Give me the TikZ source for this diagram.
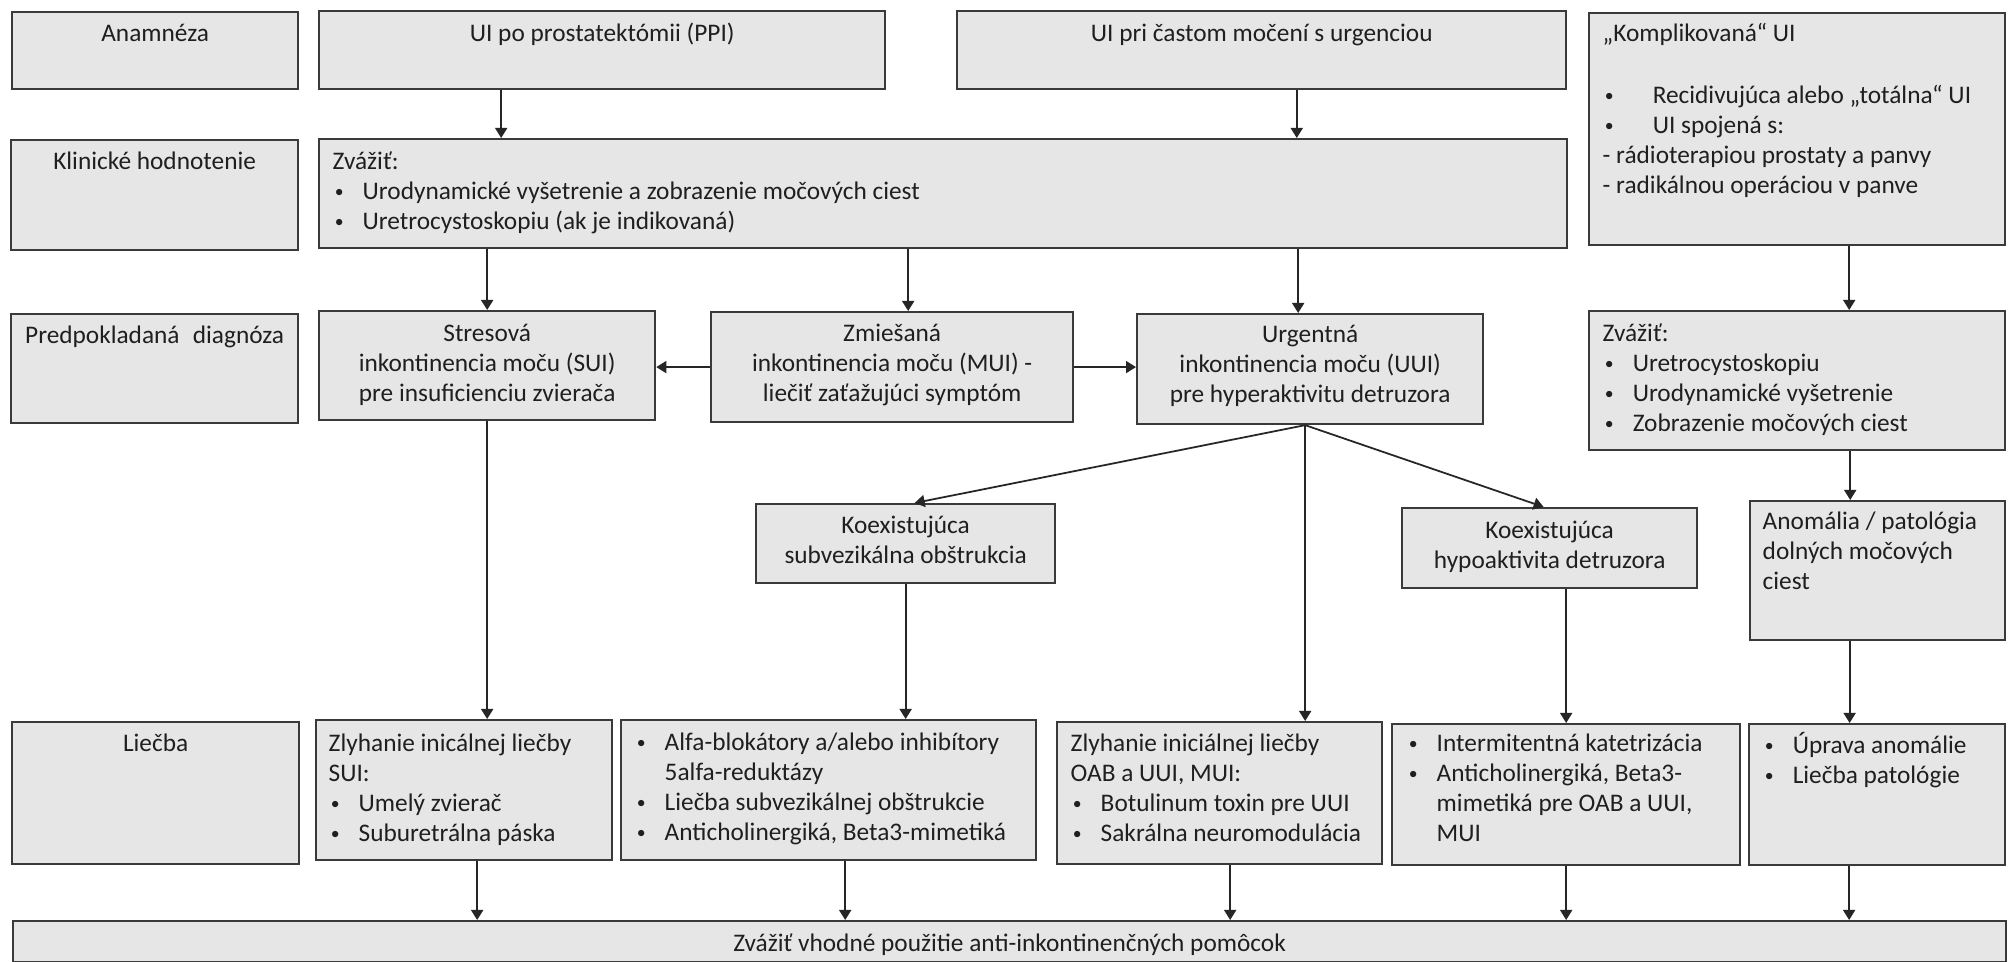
\documentclass[tikz,border=0pt]{standalone}
\usepackage{fontspec}
\usepackage{graphicx}
\setmainfont{Carlito}
\usetikzlibrary{arrows.meta,positioning,calc}

\definecolor{boxfill}{RGB}{231,230,230}
\definecolor{boxline}{RGB}{58,58,58}
\newcommand{\dotmark}{\hspace{0.6pt}\raisebox{0.75pt}{\scalebox{0.7}{\textbullet}}}
\newcommand{\itm}{\makebox[0.30cm][l]{\dotmark}}
\newcommand{\itmw}{\makebox[0.50cm][l]{\dotmark}}
\newcommand{\hang}{\hspace*{0.30cm}}

\begin{document}
\begin{tikzpicture}[
    x=0.01cm, y=-0.01cm,
    font=\fontsize{7.2}{8.54}\selectfont,
    >={Triangle[length=1.0mm, width=1.2mm]},
    box_node/.style={draw=boxline, fill=boxfill, line width=0.6pt, rectangle, inner sep=0pt, anchor=north west},
    mid_text/.style={anchor=north, inner sep=0pt, align=center, text=black!88},
    left_text/.style={anchor=north west, inner sep=0pt, align=left, text=black!88},
    flow_edge/.style={->, line width=0.5pt, draw=black!85}
]
\useasboundingbox (0,0) rectangle (2009,962);
\fill[white] (0,0) rectangle (2009,962);

% --- NODES ---

% ROW 1: Anamneza
\node[box_node, minimum width=2.86cm, minimum height=0.77cm] (anam) at (11,11) {};
\node[box_node, minimum width=5.66cm, minimum height=0.78cm] (ppi) at (318,10) {};
\node[box_node, minimum width=6.09cm, minimum height=0.78cm] (freq) at (956,10) {};
\node[box_node, minimum width=4.16cm, minimum height=2.32cm] (compl) at (1588,12) {};

% ROW 2: Klinicke hodnotenie
\node[box_node, minimum width=2.87cm, minimum height=1.10cm] (klin) at (10,139) {};
\node[box_node, minimum width=12.47cm, minimum height=1.09cm] (eval) at (318,138) {};

% ROW 3: Predpokladana diagnoza
\node[box_node, minimum width=2.87cm, minimum height=1.09cm] (pred) at (10,313) {};
\node[box_node, minimum width=3.36cm, minimum height=1.09cm] (sui) at (318,310) {};
\node[box_node, minimum width=3.62cm, minimum height=1.10cm] (mui) at (710,311) {};
\node[box_node, minimum width=3.46cm, minimum height=1.10cm] (uui) at (1136,313) {};
\node[box_node, minimum width=4.16cm, minimum height=1.39cm] (eval2) at (1588,310) {};

% ROW 4: coexisting findings
\node[box_node, minimum width=2.99cm, minimum height=0.79cm] (subv) at (755,503) {};
\node[box_node, minimum width=2.95cm, minimum height=0.80cm] (hypo) at (1401,507) {};
\node[box_node, minimum width=2.55cm, minimum height=1.39cm] (anom) at (1749,500) {};

% ROW 5: Liecba
\node[box_node, minimum width=2.87cm, minimum height=1.42cm] (treat) at (11,721) {};
\node[box_node, minimum width=2.96cm, minimum height=1.40cm] (tsui) at (315,719) {};
\node[box_node, minimum width=4.15cm, minimum height=1.40cm] (tbph) at (620,719) {};
\node[box_node, minimum width=3.25cm, minimum height=1.42cm] (toab) at (1056,721) {};
\node[box_node, minimum width=3.48cm, minimum height=1.41cm] (tcath) at (1391,723) {};
\node[box_node, minimum width=2.56cm, minimum height=1.41cm] (tfix) at (1748,723) {};

% ROW 6: pomocky
\node[box_node, minimum width=19.92cm, minimum height=0.41cm] (aids) at (12,920) {};

% --- TEXTS ---
\node[mid_text] (anam_t) at ([yshift=-0.09cm]anam.north) {\strut Anamnéza};
\node[mid_text] (ppi_t) at ([yshift=-0.10cm]ppi.north) {\strut UI po prostatektómii (PPI)};
\node[mid_text] (freq_t) at ([yshift=-0.10cm]freq.north) {\strut UI pri častom močení s urgenciou};
\node[left_text] (compl_t) at ([xshift=0.14cm, yshift=-0.08cm]compl.north west)
  {\strut „Komplikovaná“ UI\\[0.32cm]
   \itmw Recidivujúca alebo „totálna“ UI\\
   \itmw UI spojená s:\\
   - rádioterapiou prostaty a panvy\\
   - radikálnou operáciou v panve};

\node[mid_text] (klin_t) at ([yshift=-0.09cm]klin.north) {\strut Klinické hodnotenie};
\node[left_text] (eval_t) at ([xshift=0.14cm, yshift=-0.10cm]eval.north west)
  {\strut Zvážiť:\\
   \itm Urodynamické vyšetrenie a zobrazenie močových ciest\\
   \itm Uretrocystoskopiu (ak je indikovaná)};

\node[mid_text] (pred_t) at ([yshift=-0.09cm]pred.north) {\strut Predpokladaná\hspace{0.3em} diagnóza};
\node[mid_text] (sui_t) at ([yshift=-0.10cm]sui.north)
  {\strut Stresová\\inkontinencia moču (SUI)\\pre insuficienciu zvierača};
\node[mid_text] (mui_t) at ([yshift=-0.09cm]mui.north)
  {\strut Zmiešaná\\inkontinencia moču (MUI) -\\liečiť zaťažujúci symptóm};
\node[mid_text] (uui_t) at ([yshift=-0.08cm]uui.north)
  {\strut Urgentná\\inkontinencia moču (UUI)\\pre hyperaktivitu detruzora};
\node[left_text] (eval2_t) at ([xshift=0.14cm, yshift=-0.10cm]eval2.north west)
  {\strut Zvážiť:\\
   \itm Uretrocystoskopiu\\
   \itm Urodynamické vyšetrenie\\
   \itm Zobrazenie močových ciest};

\node[mid_text] (subv_t) at ([yshift=-0.09cm]subv.north) {\strut Koexistujúca\\subvezikálna obštrukcia};
\node[mid_text] (hypo_t) at ([yshift=-0.10cm]hypo.north) {\strut Koexistujúca\\hypoaktivita detruzora};
\node[left_text] (anom_t) at ([xshift=0.13cm, yshift=-0.08cm]anom.north west)
  {\strut Anomália / patológia\\dolných močových\\ciest};

\node[mid_text] (treat_t) at ([yshift=-0.09cm]treat.north) {\strut Liečba};
\node[left_text] (tsui_t) at ([xshift=0.13cm, yshift=-0.11cm]tsui.north west)
  {\strut Zlyhanie inicálnej liečby\\
   SUI:\\
   \itm Umelý zvierač\\
   \itm Suburetrálna páska};
\node[left_text] (tbph_t) at ([xshift=0.14cm, yshift=-0.10cm]tbph.north west)
  {\strut\itm Alfa-blokátory a/alebo inhibítory\\
   \hang 5alfa-reduktázy\\
   \itm Liečba subvezikálnej obštrukcie\\
   \itm Anticholinergiká, Beta3-mimetiká};
\node[left_text] (toab_t) at ([xshift=0.14cm, yshift=-0.09cm]toab.north west)
  {\strut Zlyhanie iniciálnej liečby\\
   OAB a UUI, MUI:\\
   \itm Botulinum toxin pre UUI\\
   \itm Sakrálna neuromodulácia};
\node[left_text] (tcath_t) at ([xshift=0.15cm, yshift=-0.07cm]tcath.north west)
  {\strut\itm Intermitentná katetrizácia\\
   \itm Anticholinergiká, Beta3-\\
   \hang mimetiká pre OAB a UUI,\\
   \hang MUI};
\node[left_text] (tfix_t) at ([xshift=0.14cm, yshift=-0.09cm]tfix.north west)
  {\strut\itm Úprava anomálie\\
   \itm Liečba patológie};

\node[mid_text] (aids_t) at ([yshift=-0.10cm]aids.north) {\strut Zvážiť vhodné použitie anti-inkontinenčných pomôcok};

% --- EDGES ---

% 1. Anamneza to clinical evaluation
\draw[flow_edge] ([xshift=-1.01cm]ppi.south) -- ([xshift=-1.01cm]ppi.south |- eval.north);
\draw[flow_edge] ([xshift=0.35cm]freq.south) -- ([xshift=0.35cm]freq.south |- eval.north);
\draw[flow_edge] ([xshift=0.52cm]compl.south) -- ([xshift=0.52cm]compl.south |- eval2.north);

% 2. Evaluation to diagnosis
\draw[flow_edge] (sui.north |- eval.south) -- (sui.north);
\draw[flow_edge] ([xshift=0.16cm]mui.north |- eval.south) -- ([xshift=0.16cm]mui.north);
\draw[flow_edge] ([xshift=-0.12cm]uui.north |- eval.south) -- ([xshift=-0.12cm]uui.north);
\draw[flow_edge] (mui.west) -- (sui.east |- mui.west);
\draw[flow_edge] (mui.east) -- (uui.west |- mui.east);

% 3. Urgency branches
\coordinate (fan) at ([xshift=-0.05cm]uui.south);
\draw[flow_edge] (fan) -- ([xshift=0.09cm]subv.north);
\draw[flow_edge] (fan) -- ([xshift=-0.06cm]hypo.north);
\draw[flow_edge] (fan) -- (fan |- toab.north);
\draw[flow_edge] ([xshift=0.53cm]eval2.south) -- ([xshift=0.53cm]eval2.south |- anom.north);

% 4. Diagnosis to treatment
\draw[flow_edge] (sui.south) -- (sui.south |- tsui.north);
\draw[flow_edge] (subv.south) -- (subv.south |- tbph.north);
\draw[flow_edge] (tcath.north |- hypo.south) -- (tcath.north);
\draw[flow_edge] ([xshift=-0.28cm]anom.south) -- ([xshift=-0.28cm]anom.south |- tfix.north);

% 5. Treatment to aids
\draw[flow_edge] ([xshift=0.13cm]tsui.south) -- ([xshift=0.13cm]tsui.south |- aids.north);
\draw[flow_edge] ([xshift=0.165cm]tbph.south) -- ([xshift=0.165cm]tbph.south |- aids.north);
\draw[flow_edge] ([xshift=0.105cm]toab.south) -- ([xshift=0.105cm]toab.south |- aids.north);
\draw[flow_edge] (tcath.south) -- (tcath.south |- aids.north);
\draw[flow_edge] ([xshift=-0.28cm]tfix.south) -- ([xshift=-0.28cm]tfix.south |- aids.north);

\end{tikzpicture}
\end{document}
